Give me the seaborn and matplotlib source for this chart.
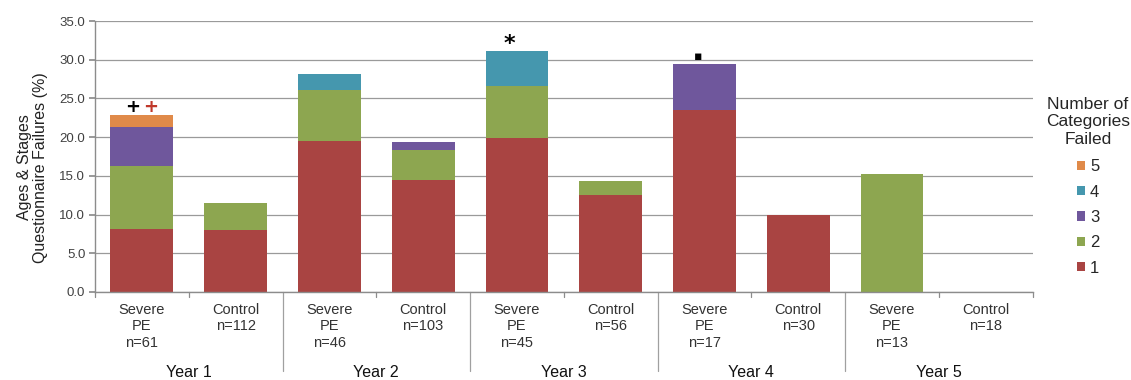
"""
Ages & Stages Questionnaire failures by year, Severe PE vs Control.
Stacked bars by number of categories failed.
"""
import matplotlib

matplotlib.use("Agg")

import matplotlib.pyplot as plt
import matplotlib.transforms as mtransforms
import numpy as np
import pandas as pd
import seaborn as sns
from matplotlib.patches import Patch

# ============================================================
# data
# ============================================================
years = ["Year 1", "Year 2", "Year 3", "Year 4", "Year 5"]
groups = [
    "Severe\nPE\nn=61", "Control\nn=112",
    "Severe\nPE\nn=46", "Control\nn=103",
    "Severe\nPE\nn=45", "Control\nn=56",
    "Severe\nPE\nn=17", "Control\nn=30",
    "Severe\nPE\nn=13", "Control\nn=18",
]
# percentage contributed by each "number of categories failed" level
failed_1 = [8.2, 8.0, 19.5, 14.5, 19.9, 12.5, 23.5, 10.0, 0.0, 0.0]
failed_2 = [8.1, 3.5, 6.6, 3.9, 6.7, 1.8, 0.0, 0.0, 15.3, 0.0]
failed_3 = [5.0, 0.0, 0.0, 1.0, 0.0, 0.0, 5.9, 0.0, 0.0, 0.0]
failed_4 = [0.0, 0.0, 2.1, 0.0, 4.5, 0.0, 0.0, 0.0, 0.0, 0.0]
failed_5 = [1.6, 0.0, 0.0, 0.0, 0.0, 0.0, 0.0, 0.0, 0.0, 0.0]
level_names = ["1", "2", "3", "4", "5"]

# significance markers: (bar index, symbol, colour, x offset)
markers = [
    (0, "+", "black", -0.10),
    (0, "+", "#C0392B", 0.09),
    (4, "*", "black", -0.08),
    (6, "\u25aa", "black", -0.07),
]

colors = {
    "1": "#A94442",
    "2": "#8DA650",
    "3": "#6F579C",
    "4": "#4597AE",
    "5": "#E08A49",
}

# ============================================================
# style
# ============================================================
sns.set_theme(style="white")
plt.rcParams["font.family"] = ["Liberation Sans", "DejaVu Sans"]

fig = plt.figure(figsize=(11.31, 3.80), dpi=100)
ax = fig.add_axes([0.084, 0.2316, 0.829, 0.713])

df = pd.DataFrame(
    {"group": groups, "1": failed_1, "2": failed_2, "3": failed_3,
     "4": failed_4, "5": failed_5}
)
cum = df[level_names].cumsum(axis=1)

# draw from the highest level down so lower segments overlay upper ones
for lvl in reversed(level_names):
    heights = cum[lvl].where(df[lvl] > 0)
    sns.barplot(
        x=df["group"], y=heights, color=colors[lvl], width=0.67,
        saturation=1, ax=ax, order=groups, linewidth=0,
    )

ax.set_xlim(-0.5, len(groups) - 0.5)
ax.set_ylim(0, 35)
ax.set_yticks(np.arange(0, 36, 5))
ax.set_yticklabels([f"{v:.1f}" for v in np.arange(0, 36, 5)], fontsize=9.5, color="#404040")
ax.yaxis.grid(True, color="#9a9a9a", linewidth=0.9)
ax.set_axisbelow(True)
ax.set_xlabel("")
ax.set_ylabel("Ages & Stages\nQuestionnaire Failures (%)", fontsize=11.5,
              color="#222222", labelpad=9, linespacing=1.1)
ax.yaxis.set_label_coords(-0.05, 0.46)

for side in ["top", "right"]:
    ax.spines[side].set_visible(False)
for side in ["left", "bottom"]:
    ax.spines[side].set_color("#8c8c8c")
    ax.spines[side].set_linewidth(1.0)

ax.tick_params(axis="y", left=True, length=4, color="#8c8c8c", pad=3)
ax.set_xticks(range(len(groups)))
ax.set_xticklabels(groups, fontsize=10.5, color="#333333", linespacing=1.2,
                   va="top")
ax.tick_params(axis="x", bottom=False, pad=2)

# small ticks at category boundaries, long lines between years
trans = mtransforms.blended_transform_factory(ax.transData, ax.transAxes)
for b in np.arange(-0.5, len(groups), 1.0):
    if b in (1.5, 3.5, 5.5, 7.5):
        ax.plot([b, b], [0, -0.29], transform=trans, color="#a0a0a0",
                linewidth=0.9, clip_on=False)
    else:
        ax.plot([b, b], [0, -0.018], transform=trans, color="#8c8c8c",
                linewidth=0.9, clip_on=False)

for i, year in enumerate(years):
    ax.text(2 * i + 0.5, -0.297, year, transform=trans, ha="center",
            va="center", fontsize=11.5, color="#111111")

# significance markers above bars
totals = cum["5"].values
sizes = {"+": 13, "*": 16, "\u25aa": 9}
for idx, sym, col, dx in markers:
    ax.text(idx + dx, totals[idx] + 1.0, sym, ha="center", va="center",
            fontsize=sizes[sym], color=col, fontweight="bold",
            family=["DejaVu Sans"])

# legend
handles = [Patch(facecolor=colors[l], edgecolor="none", label=l)
           for l in reversed(level_names)]
leg = fig.legend(
    handles=handles, title="Number of\nCategories\nFailed",
    loc="upper center", bbox_to_anchor=(1088 / 1131, 1 - 82 / 380),
    frameon=False, fontsize=12, title_fontsize=12.5, handlelength=0.5,
    handleheight=0.5, handletextpad=0.3, labelspacing=0.62,
)
leg.get_title().set_multialignment("center")
leg._legend_box.sep = 9

fig.savefig("out.png", dpi=100)
